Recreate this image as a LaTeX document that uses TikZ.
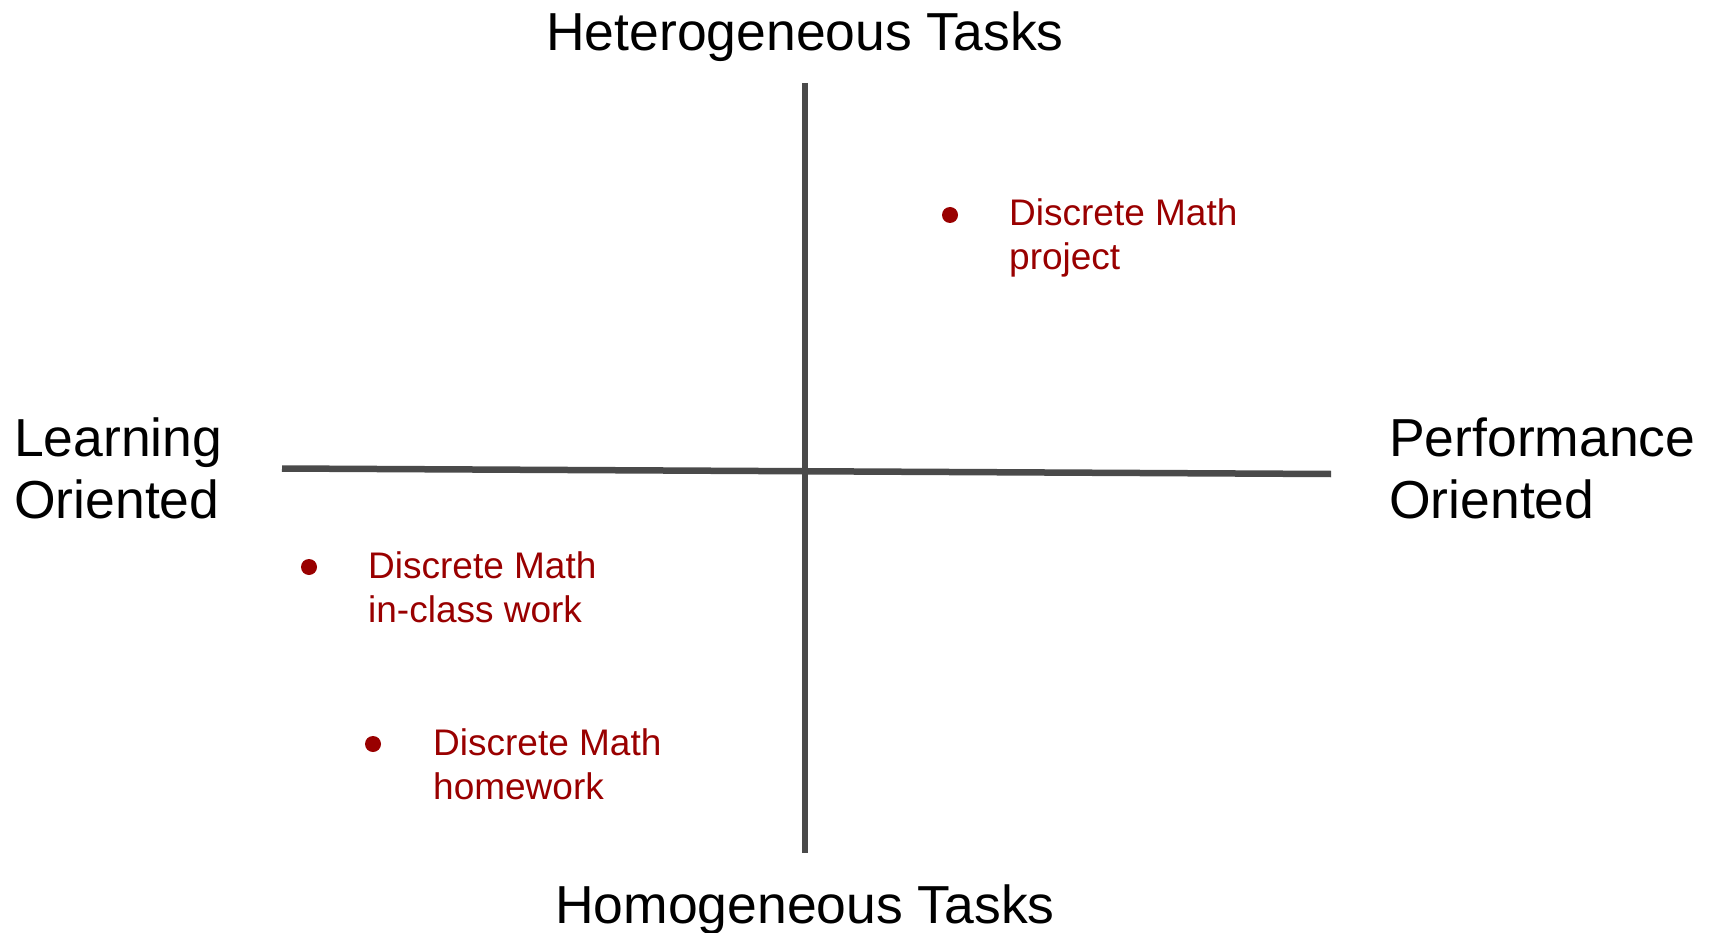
\documentclass[tikz,border=0pt]{standalone}
\usepackage{fontspec}
\setmainfont{Liberation Sans}
\definecolor{axisgray}{HTML}{4A4A4A}
\definecolor{dotred}{HTML}{990000}
\tikzset{
  axisline/.style={draw=axisgray, line width=6.5pt},
  biglabel/.style={inner sep=0pt, font=\fontsize{53.5}{62}\selectfont, align=left, text=black},
  itemlabel/.style={inner sep=0pt, font=\fontsize{37}{44}\selectfont, align=left, text=dotred},
  itemdot/.style={circle, fill=dotred, inner sep=0pt, minimum size=16pt}
}
\begin{document}
\begin{tikzpicture}[x=1pt,y=-1pt]
\useasboundingbox (0,0) rectangle (1713,933);
% axes
\coordinate (vtop) at (805,83);
\coordinate (vbot) at (805,853);
\coordinate (hleft) at (282,468.5);
\coordinate (hright) at (1331,474);
\draw[axisline] (vtop) -- (vbot);
\draw[axisline] (hleft) -- (hright);
% axis labels
\node[biglabel, anchor=base] (het) at (805,51) {Heterogeneous Tasks};
\node[biglabel, anchor=base] (hom) at (805,923) {Homogeneous Tasks};
\node[biglabel, anchor=base west] (learn) at (14,518) {Learning\\Oriented};
\node[biglabel, anchor=base west] (perf) at (1389,518) {Performance\\Oriented};
% items
\node[itemdot] (d1) at (950,215) {};
\node[itemlabel, anchor=base west] (t1) at (1009,270) {Discrete Math\\project};
\node[itemdot] (d2) at (309,567) {};
\node[itemlabel, anchor=base west] (t2) at (368,622) {Discrete Math\\in-class work};
\node[itemdot] (d3) at (373,744) {};
\node[itemlabel, anchor=base west] (t3) at (433,799) {Discrete Math\\homework};
\end{tikzpicture}
\end{document}
